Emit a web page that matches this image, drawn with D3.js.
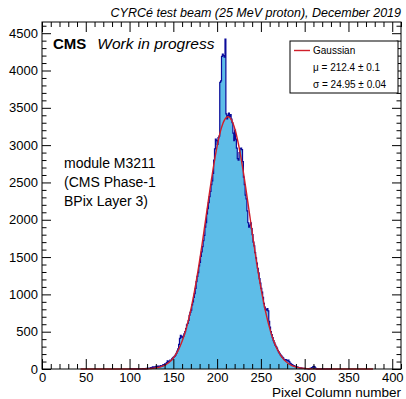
<!DOCTYPE html>
<html><head><meta charset="utf-8">
<script src="https://cdn.jsdelivr.net/npm/d3@7"></script>
<style>
html,body{margin:0;padding:0;background:#fff;}
svg{display:block;font-family:"Liberation Sans",Arial,sans-serif;}
</style></head>
<body>
<svg id="c" width="406" height="399"></svg>
<script>
// ---- data ----
const firstColumn = 100; // column of first count below
const counts = [
 0,0,1,0,0,2,0,1,0,1,
 2,0,3,1,2,4,3,5,2,8,
 6,9,12,10,20,15,28,22,30,26,
 34,25,40,36,30,45,38,42,60,55,
 70,64,85,110,92,104,118,120,136,150,
 160,170,185,210,240,270,330,410,450,430,
 420,440,470,500,540,590,610,650,720,760,
 790,860,900,960,1010,1080,1170,1240,1290,1380,
 1430,1510,1570,1640,1720,1790,1900,1960,2080,2150,
 2230,2310,2380,2470,2520,2620,2800,2950,3080,3060,
 3010,3100,3120,3840,3860,4190,4220,4200,4180,4420,
 3420,3350,3400,3430,3380,3410,3350,3300,3160,3060,
 3200,3080,2960,2820,2800,2900,2950,2960,2940,2780,
 2570,2470,2330,2280,2120,1960,1900,1930,1960,1880,
 1800,1700,1650,1560,1490,1420,1350,1290,1210,1150,
 1080,1030,960,880,830,800,790,810,780,640,
 560,500,460,420,380,350,320,300,280,250,
 230,210,190,175,160,150,130,120,125,118,
 110,120,100,80,70,60,52,45,40,36,
 30,28,22,20,15,14,12,10,9,8,
 6,5,6,4,3,5,8,12,20,30,
 35,28,12,5,2,3,1,2,0,1,
 1,0,2,0,0,1,0,0,1,0,0
];
// Gaussian fit parameters (from legend) and fit range
const fitAmp = 3380, fitMu = 212.4, fitMuErr = 0.1, fitSigma = 24.95, fitSigmaErr = 0.04;
const fitRange = [44, 378];
const xTicksMajor = [0,50,100,150,200,250,300,350,400];
const yTicksMajor = [0,500,1000,1500,2000,2500,3000,3500,4000,4500];
const xDomain = [0, 410];
const yDomain = [0, 4650];
const titleText = "CYRCé test beam (25 MeV proton), December 2019";
const xTitle = "Pixel Column number";
const moduleLines = ["module M3211", "(CMS Phase-1", "BPix Layer 3)"];

// ---- layout ----
const L = 42, R = 401, T = 22, B = 369;
const svg = d3.select("#c");
const x = d3.scaleLinear().domain(xDomain).range([L, R]);
const y = d3.scaleLinear().domain(yDomain).range([B, T]);

const bins = counts.map((v,i)=>({c: firstColumn + i, v}));
const stepPts = bins.concat([{c: firstColumn + counts.length, v: counts[counts.length-1]}]);

const fillCol = "#5ebde8", lineCol = "#0a0a9a", red = "#d01f2a";

svg.append("path")
  .attr("d", d3.area().curve(d3.curveStepAfter).x(d=>x(d.c)).y0(y(0)).y1(d=>y(d.v))(stepPts))
  .attr("fill", fillCol).attr("stroke","none");
svg.append("path")
  .attr("d", d3.line().curve(d3.curveStepAfter).x(d=>x(d.c)).y(d=>y(d.v))(stepPts))
  .attr("fill","none").attr("stroke", lineCol).attr("stroke-width",1.2);

// Gaussian fit curve
const gx = d3.range(fitRange[0], fitRange[1] + 0.001, 0.5);
const gauss = c => fitAmp * Math.exp(-((c - fitMu) ** 2) / (2 * fitSigma * fitSigma));
svg.append("path")
  .attr("d", d3.line().x(c=>x(c)).y(c=>y(gauss(c)))(gx))
  .attr("fill","none").attr("stroke", red).attr("stroke-width",1.4);

// ---- axes ----
const xMinor = d3.range(0, xDomain[1] + 0.01, 10).filter(v=>v%50!==0);
const yMinor = d3.range(0, yDomain[1] + 0.01, 100).filter(v=>v%500!==0);
function styleAxis(g){ g.select(".domain").remove(); g.selectAll("line").attr("stroke","#000"); }

svg.append("g").attr("transform",`translate(0,${B})`)
  .call(d3.axisBottom(x).tickValues(xTicksMajor).tickSize(-10).tickPadding(4).tickFormat(d3.format("d")))
  .call(styleAxis)
  .call(g=>g.selectAll("text").attr("font-size",13).attr("font-family","Liberation Sans, Arial, sans-serif").attr("fill","#000").attr("dy","0.71em").attr("y",4));
svg.append("g").attr("transform",`translate(0,${B})`)
  .call(d3.axisBottom(x).tickValues(xMinor).tickSize(-5).tickFormat(""))
  .call(styleAxis);
svg.append("g").attr("transform",`translate(0,${T})`)
  .call(d3.axisTop(x).tickValues(xTicksMajor).tickSize(-10).tickFormat(""))
  .call(styleAxis);
svg.append("g").attr("transform",`translate(0,${T})`)
  .call(d3.axisTop(x).tickValues(xMinor).tickSize(-5).tickFormat(""))
  .call(styleAxis);

svg.append("g").attr("transform",`translate(${L},0)`)
  .call(d3.axisLeft(y).tickValues(yTicksMajor).tickSize(-9).tickPadding(5).tickFormat(d3.format("d")))
  .call(styleAxis)
  .call(g=>g.selectAll("text").attr("font-size",13).attr("font-family","Liberation Sans, Arial, sans-serif").attr("fill","#000").attr("x",-4));
svg.append("g").attr("transform",`translate(${L},0)`)
  .call(d3.axisLeft(y).tickValues(yMinor).tickSize(-4.5).tickFormat(""))
  .call(styleAxis);
svg.append("g").attr("transform",`translate(${R},0)`)
  .call(d3.axisRight(y).tickValues(yTicksMajor).tickSize(-9).tickFormat(""))
  .call(styleAxis);
svg.append("g").attr("transform",`translate(${R},0)`)
  .call(d3.axisRight(y).tickValues(yMinor).tickSize(-4.5).tickFormat(""))
  .call(styleAxis);

svg.append("rect").attr("x",L).attr("y",T).attr("width",R-L).attr("height",B-T)
  .attr("fill","none").attr("stroke","#000").attr("stroke-width",1);

// ---- texts ----
svg.append("text").attr("x",R).attr("y",17).attr("text-anchor","end")
  .attr("font-size",12.5).attr("font-style","italic").text(titleText);
svg.append("text").attr("x",R).attr("y",397).attr("text-anchor","end")
  .attr("font-size",13.5).text(xTitle);

const cms = svg.append("text").attr("x",53).attr("y",49).attr("font-size",15);
cms.append("tspan").attr("font-weight","bold").text("CMS");
cms.append("tspan").attr("dx",11).attr("font-size",15.5).attr("font-style","italic").text("Work in progress");

svg.append("g").selectAll("text").data(moduleLines).join("text")
  .attr("x",64).attr("y",(d,i)=>168+i*19).attr("font-size",14).text(d=>d);

// ---- legend ----
const lg = svg.append("g");
lg.append("rect").attr("x",290).attr("y",41).attr("width",108).attr("height",52)
  .attr("fill","#fff").attr("stroke","#000").attr("stroke-width",1);
lg.append("line").attr("x1",294).attr("x2",310).attr("y1",50.5).attr("y2",50.5)
  .attr("stroke",red).attr("stroke-width",1.4);
const legLines = ["Gaussian", `\u03bc = ${fitMu} \u00b1 ${fitMuErr}`, `\u03c3 = ${fitSigma} \u00b1 ${fitSigmaErr}`];
lg.selectAll("text.l").data(legLines).join("text").attr("class","l")
  .attr("x",313).attr("y",(d,i)=>[54,71,88][i]).attr("font-size",10).text(d=>d);
</script>
</body></html>
